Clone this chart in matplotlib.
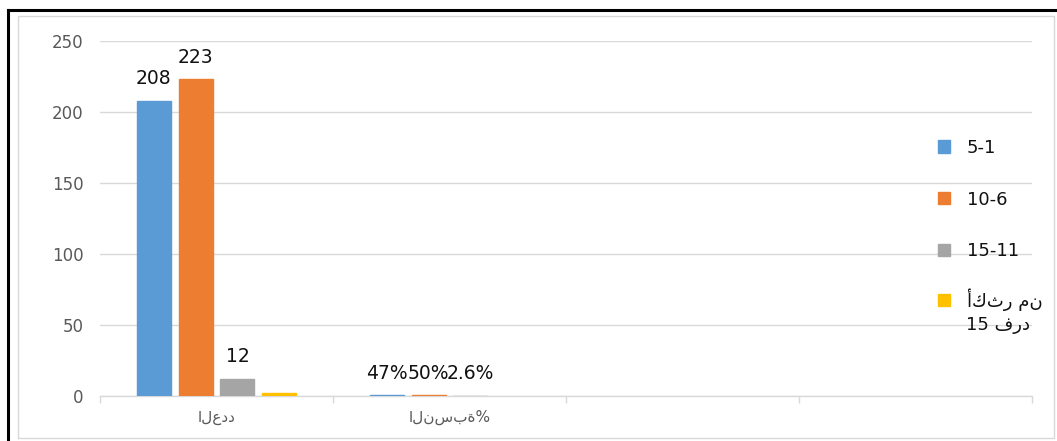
import numpy as np
import matplotlib
matplotlib.use("Agg")
import matplotlib.pyplot as plt
from matplotlib.lines import Line2D

plt.rcParams['font.family'] = ['DejaVu Sans']

categories = ['العدد', 'النسبة%', '', '']
series_names = ['5-1', '10-6', '15-11', 'أكثر من']
series_name_extra = '15 فرد'
colors = ['#5B9BD5', '#ED7D31', '#A5A5A5', '#FFC000']

counts = [208, 223, 12, 2]
percents = [0.47, 0.50, 0.026, 0]
count_labels = ['208', '223', '12', '']
percent_labels = ['47%', '50%', '2.6%', '']

fig = plt.figure(figsize=(10.57, 4.41), dpi=100)
W, H = 1057, 441
ax = fig.add_axes([100 / W, 1 - 396 / H, (1032 - 100) / W, (396 - 41) / H])

step = 0.18
width = 0.146
bars = []
for j in range(4):
    xs = np.array([0, 1]) + (j - 1.5) * step
    vals = [counts[j], percents[j]]
    # thin edge so the tiny percentage bars stay visible
    lws = [1.0 if v > 0 else 0 for v in vals]
    b = ax.bar(xs, vals, width=width, color=colors[j], edgecolor=colors[j],
               linewidth=lws, label=series_names[j], zorder=3)
    bars.append(b)
    for x, v, lab in zip(xs, vals, [count_labels[j], percent_labels[j]]):
        if lab:
            ax.annotate(lab, (x, v), xytext=(0, 9), textcoords='offset points',
                        ha='center', va='bottom', fontsize=13.5, color='#111111')

ax.set_xlim(-0.5, 3.5)
ax.set_ylim(0, 250)
ax.set_yticks([0, 50, 100, 150, 200, 250])
ax.set_xticks(range(4))
ax.set_xticklabels(categories, fontsize=11, color='#595959')
ax.set_xticks(np.arange(-0.5, 4, 1), minor=True)
ax.tick_params(axis='x', which='major', length=0, pad=10)
ax.tick_params(axis='x', which='minor', length=5, color='#d9d9d9', width=1)
ax.tick_params(axis='y', length=0, pad=12, labelsize=12, labelcolor='#595959')
ax.grid(axis='y', color='#d9d9d9', linewidth=1, zorder=0)
ax.set_axisbelow(True)
for s in ['top', 'right', 'left']:
    ax.spines[s].set_visible(False)
ax.spines['bottom'].set_color('#d9d9d9')
ax.spines['bottom'].set_linewidth(1)

leg_kw = dict(loc='upper left', bbox_transform=fig.transFigure, frameon=False,
              fontsize=13, handlelength=0.68, handleheight=0.68,
              handletextpad=0.9, labelspacing=1.86, borderpad=0, borderaxespad=0)
leg = ax.legend(bars[:3], series_names[:3], bbox_to_anchor=(938 / W, 1 - 139 / H), **leg_kw)
ax.add_artist(leg)
leg2 = ax.legend(bars[3:], series_names[3:], bbox_to_anchor=(938 / W, 1 - 288 / H), **leg_kw)
for t in leg.get_texts() + leg2.get_texts():
    t.set_color('#111111')
fig.text(966 / W, 1 - 325 / H, series_name_extra, fontsize=13,
         ha='left', va='center', color='#111111')

# chart frame: light inner border, dark outer edge on top and left
x0, x1, y0, y1 = 18 / W, 1054 / W, 1 - 438 / H, 1 - 16 / H
fig.lines.append(Line2D([x0, x1, x1, x0, x0], [y0, y0, y1, y1, y0],
                        transform=fig.transFigure, color='#d9d9d9', linewidth=1))
fig.lines.append(Line2D([8 / W, 1], [1 - 10 / H, 1 - 10 / H],
                        transform=fig.transFigure, color='black', linewidth=2.2))
fig.lines.append(Line2D([8 / W, 8 / W], [0, 1 - 10 / H],
                        transform=fig.transFigure, color='black', linewidth=2.2))

fig.savefig('out.png', dpi=100)
